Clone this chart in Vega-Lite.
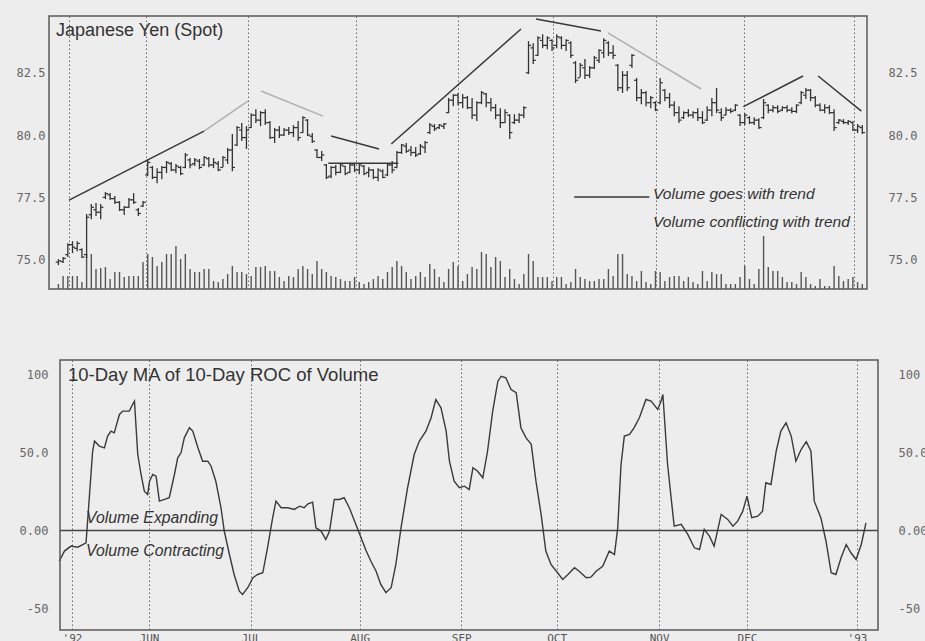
{
  "$schema": "https://vega.github.io/schema/vega-lite/v6.json",
  "background": "#ededed",
  "padding": {"left": 15, "top": 15, "right": 0, "bottom": 0},
  "spacing": 68,
  "config": {
    "view": {"stroke": "#5a5a5a", "strokeWidth": 1.5},
    "axis": {"labelFont": "DejaVu Sans Mono", "labelFontSize": 12, "labelColor": "#666"}
  },
  "datasets": {
    "bars": [
      {"d":2,"o":74.9,"h":75.02,"l":74.78,"c":74.95,"v":0.5},
      {"d":3,"o":74.92,"h":75.1,"l":74.86,"c":75.05,"v":1.3},
      {"d":4,"o":75.2,"h":75.66,"l":75.1,"c":75.6,"v":1.3},
      {"d":5,"o":75.6,"h":75.74,"l":75.26,"c":75.5,"v":1.3},
      {"d":6,"o":75.45,"h":75.74,"l":75.34,"c":75.65,"v":1.3},
      {"d":7,"o":75.4,"h":75.46,"l":75.06,"c":75.1,"v":0.7},
      {"d":8,"o":75.2,"h":76.83,"l":75.06,"c":76.7,"v":3.5},
      {"d":9,"o":76.8,"h":77.23,"l":76.62,"c":77.1,"v":3.5},
      {"d":10,"o":77.0,"h":77.27,"l":76.75,"c":76.9,"v":2.0},
      {"d":11,"o":76.9,"h":77.23,"l":76.62,"c":77.1,"v":2.1},
      {"d":12,"o":77.5,"h":77.71,"l":77.43,"c":77.65,"v":2.2},
      {"d":13,"o":77.6,"h":77.67,"l":77.39,"c":77.45,"v":1.0},
      {"d":14,"o":77.45,"h":77.55,"l":77.23,"c":77.3,"v":1.7},
      {"d":15,"o":77.3,"h":77.35,"l":76.95,"c":77.0,"v":1.7},
      {"d":16,"o":77.0,"h":77.15,"l":76.79,"c":77.1,"v":1.2},
      {"d":17,"o":77.1,"h":77.47,"l":77.07,"c":77.4,"v":1.3},
      {"d":18,"o":77.4,"h":77.67,"l":77.23,"c":77.3,"v":1.3},
      {"d":19,"o":77.0,"h":77.07,"l":76.75,"c":76.85,"v":1.3},
      {"d":20,"o":77.15,"h":77.35,"l":77.11,"c":77.3,"v":2.7},
      {"d":21,"o":78.4,"h":79.04,"l":78.35,"c":78.9,"v":3.5},
      {"d":22,"o":78.7,"h":78.76,"l":78.23,"c":78.3,"v":3.2},
      {"d":23,"o":78.3,"h":78.67,"l":78.07,"c":78.5,"v":2.3},
      {"d":24,"o":78.5,"h":78.76,"l":78.23,"c":78.7,"v":2.7},
      {"d":25,"o":78.7,"h":78.96,"l":78.47,"c":78.9,"v":3.5},
      {"d":26,"o":78.85,"h":78.92,"l":78.55,"c":78.6,"v":3.5},
      {"d":27,"o":78.6,"h":78.84,"l":78.47,"c":78.75,"v":4.3},
      {"d":28,"o":78.7,"h":78.76,"l":78.39,"c":78.45,"v":3.0},
      {"d":29,"o":78.7,"h":79.28,"l":78.67,"c":79.2,"v":3.5},
      {"d":30,"o":79.0,"h":79.08,"l":78.67,"c":78.8,"v":2.0},
      {"d":31,"o":78.85,"h":79.08,"l":78.76,"c":79.0,"v":1.7},
      {"d":32,"o":78.95,"h":79.04,"l":78.63,"c":78.7,"v":1.7},
      {"d":33,"o":78.8,"h":79.16,"l":78.76,"c":79.1,"v":2.0},
      {"d":34,"o":79.05,"h":79.12,"l":78.71,"c":78.8,"v":2.0},
      {"d":35,"o":78.8,"h":79.08,"l":78.67,"c":78.9,"v":0.8},
      {"d":36,"o":78.85,"h":78.96,"l":78.55,"c":78.6,"v":0.7},
      {"d":37,"o":78.7,"h":79.16,"l":78.71,"c":79.1,"v":1.0},
      {"d":38,"o":79.0,"h":79.48,"l":78.84,"c":79.4,"v":1.5},
      {"d":39,"o":79.4,"h":80.04,"l":78.55,"c":78.7,"v":2.3},
      {"d":40,"o":79.6,"h":80.36,"l":79.56,"c":80.3,"v":1.7},
      {"d":41,"o":80.2,"h":80.48,"l":79.76,"c":79.9,"v":1.7},
      {"d":42,"o":79.9,"h":80.36,"l":79.44,"c":80.2,"v":1.5},
      {"d":43,"o":80.3,"h":80.88,"l":80.28,"c":80.8,"v":1.3},
      {"d":44,"o":80.8,"h":81.04,"l":80.48,"c":80.6,"v":2.2},
      {"d":45,"o":80.6,"h":80.96,"l":80.36,"c":80.9,"v":2.2},
      {"d":46,"o":80.9,"h":81.04,"l":80.4,"c":80.5,"v":2.3},
      {"d":47,"o":80.5,"h":80.56,"l":79.84,"c":79.9,"v":1.8},
      {"d":48,"o":79.9,"h":80.28,"l":79.68,"c":80.2,"v":1.8},
      {"d":49,"o":80.2,"h":80.36,"l":79.88,"c":80.0,"v":1.2},
      {"d":50,"o":80.0,"h":80.28,"l":79.96,"c":80.2,"v":0.8},
      {"d":51,"o":80.2,"h":80.32,"l":80.0,"c":80.1,"v":1.3},
      {"d":52,"o":80.1,"h":80.4,"l":79.92,"c":80.3,"v":1.2},
      {"d":53,"o":80.3,"h":80.56,"l":79.76,"c":79.9,"v":2.0},
      {"d":54,"o":80.1,"h":80.76,"l":80.08,"c":80.7,"v":2.3},
      {"d":55,"o":80.6,"h":80.64,"l":79.96,"c":80.0,"v":2.0},
      {"d":56,"o":79.95,"h":80.08,"l":79.68,"c":79.75,"v":1.5},
      {"d":57,"o":79.4,"h":79.44,"l":79.08,"c":79.1,"v":2.8},
      {"d":58,"o":79.1,"h":79.36,"l":78.96,"c":79.2,"v":2.0},
      {"d":59,"o":78.8,"h":78.84,"l":78.23,"c":78.3,"v":1.7},
      {"d":60,"o":78.35,"h":78.76,"l":78.27,"c":78.7,"v":1.3},
      {"d":61,"o":78.7,"h":78.8,"l":78.39,"c":78.5,"v":1.2},
      {"d":62,"o":78.5,"h":78.84,"l":78.47,"c":78.8,"v":1.0},
      {"d":63,"o":78.75,"h":78.76,"l":78.39,"c":78.45,"v":0.8},
      {"d":64,"o":78.5,"h":78.84,"l":78.47,"c":78.8,"v":0.8},
      {"d":65,"o":78.8,"h":78.88,"l":78.51,"c":78.6,"v":1.2},
      {"d":66,"o":78.6,"h":78.84,"l":78.43,"c":78.8,"v":0.7},
      {"d":67,"o":78.75,"h":78.8,"l":78.39,"c":78.45,"v":0.5},
      {"d":68,"o":78.5,"h":78.71,"l":78.31,"c":78.6,"v":0.7},
      {"d":69,"o":78.6,"h":78.63,"l":78.23,"c":78.3,"v":1.0},
      {"d":70,"o":78.3,"h":78.67,"l":78.15,"c":78.6,"v":1.3},
      {"d":71,"o":78.55,"h":78.63,"l":78.27,"c":78.3,"v":1.0},
      {"d":72,"o":78.4,"h":78.88,"l":78.35,"c":78.8,"v":1.7},
      {"d":73,"o":78.8,"h":78.96,"l":78.47,"c":78.6,"v":2.2},
      {"d":74,"o":78.7,"h":79.36,"l":78.67,"c":79.3,"v":2.8},
      {"d":75,"o":79.3,"h":79.64,"l":79.24,"c":79.6,"v":2.3},
      {"d":76,"o":79.55,"h":79.68,"l":79.28,"c":79.35,"v":1.7},
      {"d":77,"o":79.4,"h":79.56,"l":79.16,"c":79.3,"v":1.0},
      {"d":78,"o":79.3,"h":79.52,"l":79.12,"c":79.2,"v":1.3},
      {"d":79,"o":79.25,"h":79.64,"l":79.2,"c":79.55,"v":1.7},
      {"d":80,"o":79.5,"h":79.76,"l":79.28,"c":79.7,"v":1.2},
      {"d":81,"o":80.1,"h":80.48,"l":80.04,"c":80.4,"v":2.5},
      {"d":82,"o":80.35,"h":80.44,"l":80.16,"c":80.25,"v":2.0},
      {"d":83,"o":80.3,"h":80.44,"l":80.24,"c":80.4,"v":1.2},
      {"d":84,"o":80.35,"h":80.48,"l":80.24,"c":80.45,"v":0.7},
      {"d":85,"o":80.9,"h":81.49,"l":80.88,"c":81.4,"v":2.0},
      {"d":86,"o":81.4,"h":81.65,"l":81.16,"c":81.6,"v":2.7},
      {"d":87,"o":81.6,"h":81.69,"l":81.2,"c":81.3,"v":2.3},
      {"d":88,"o":81.3,"h":81.65,"l":81.08,"c":81.5,"v":0.8},
      {"d":89,"o":81.5,"h":81.57,"l":81.04,"c":81.1,"v":1.5},
      {"d":90,"o":81.1,"h":81.49,"l":80.64,"c":80.8,"v":2.2},
      {"d":91,"o":80.8,"h":81.36,"l":80.56,"c":81.3,"v":2.0},
      {"d":92,"o":81.3,"h":81.77,"l":81.24,"c":81.7,"v":3.7},
      {"d":93,"o":81.65,"h":81.69,"l":81.12,"c":81.3,"v":3.5},
      {"d":94,"o":81.3,"h":81.49,"l":80.96,"c":81.1,"v":2.2},
      {"d":95,"o":81.1,"h":81.24,"l":80.64,"c":80.8,"v":3.2},
      {"d":96,"o":80.8,"h":81.08,"l":80.28,"c":80.5,"v":2.8},
      {"d":97,"o":80.5,"h":81.04,"l":80.48,"c":80.9,"v":1.2},
      {"d":98,"o":80.8,"h":80.84,"l":79.84,"c":80.1,"v":2.0},
      {"d":99,"o":80.5,"h":80.84,"l":80.44,"c":80.6,"v":1.0},
      {"d":100,"o":80.6,"h":80.88,"l":80.48,"c":80.8,"v":0.5},
      {"d":101,"o":80.8,"h":81.16,"l":80.68,"c":81.1,"v":1.5},
      {"d":102,"o":82.5,"h":83.77,"l":82.45,"c":83.6,"v":3.5},
      {"d":103,"o":83.5,"h":83.69,"l":82.85,"c":83.0,"v":2.8},
      {"d":104,"o":83.2,"h":83.97,"l":83.17,"c":83.9,"v":1.2},
      {"d":105,"o":83.8,"h":84.05,"l":83.49,"c":83.6,"v":1.2},
      {"d":106,"o":83.6,"h":83.97,"l":83.45,"c":83.9,"v":1.2},
      {"d":107,"o":83.8,"h":83.85,"l":83.37,"c":83.5,"v":0.8},
      {"d":108,"o":83.6,"h":84.05,"l":83.49,"c":83.95,"v":1.2},
      {"d":109,"o":83.9,"h":83.97,"l":83.45,"c":83.6,"v":1.2},
      {"d":110,"o":83.6,"h":83.85,"l":83.37,"c":83.8,"v":0.5},
      {"d":111,"o":83.7,"h":83.77,"l":83.09,"c":83.2,"v":0.7},
      {"d":112,"o":82.9,"h":82.97,"l":82.09,"c":82.2,"v":2.0},
      {"d":113,"o":82.3,"h":82.89,"l":82.33,"c":82.8,"v":1.2},
      {"d":114,"o":82.7,"h":83.05,"l":82.25,"c":82.4,"v":1.0},
      {"d":115,"o":82.4,"h":82.77,"l":82.29,"c":82.7,"v":0.8},
      {"d":116,"o":82.7,"h":83.17,"l":82.65,"c":83.1,"v":0.8},
      {"d":117,"o":83.0,"h":83.45,"l":82.89,"c":83.4,"v":1.0},
      {"d":118,"o":83.3,"h":83.89,"l":83.09,"c":83.8,"v":1.0},
      {"d":119,"o":83.7,"h":83.77,"l":83.17,"c":83.3,"v":2.0},
      {"d":120,"o":83.3,"h":83.61,"l":83.05,"c":83.2,"v":1.3},
      {"d":121,"o":82.8,"h":82.85,"l":81.77,"c":81.9,"v":3.5},
      {"d":122,"o":81.9,"h":82.57,"l":81.69,"c":82.4,"v":3.5},
      {"d":123,"o":82.4,"h":82.57,"l":81.77,"c":81.9,"v":1.5},
      {"d":124,"o":82.8,"h":83.25,"l":82.69,"c":83.2,"v":1.3},
      {"d":125,"o":82.2,"h":82.29,"l":81.36,"c":81.5,"v":0.8},
      {"d":126,"o":81.5,"h":81.85,"l":81.24,"c":81.7,"v":1.8},
      {"d":127,"o":81.7,"h":81.77,"l":81.16,"c":81.3,"v":0.7},
      {"d":128,"o":81.3,"h":81.57,"l":81.08,"c":81.5,"v":0.5},
      {"d":129,"o":81.3,"h":81.36,"l":80.96,"c":81.0,"v":1.8},
      {"d":130,"o":81.3,"h":82.29,"l":81.24,"c":82.1,"v":1.7},
      {"d":131,"o":81.8,"h":81.85,"l":81.36,"c":81.5,"v":0.8},
      {"d":132,"o":81.5,"h":81.69,"l":81.08,"c":81.2,"v":1.2},
      {"d":133,"o":81.2,"h":81.36,"l":80.76,"c":80.9,"v":1.3},
      {"d":134,"o":80.9,"h":81.16,"l":80.48,"c":80.6,"v":1.3},
      {"d":135,"o":80.7,"h":80.96,"l":80.64,"c":80.9,"v":0.8},
      {"d":136,"o":80.9,"h":81.04,"l":80.72,"c":80.8,"v":1.2},
      {"d":137,"o":80.8,"h":80.96,"l":80.68,"c":80.9,"v":0.7},
      {"d":138,"o":80.9,"h":81.08,"l":80.56,"c":80.7,"v":0.5},
      {"d":139,"o":80.7,"h":80.96,"l":80.44,"c":80.5,"v":1.8},
      {"d":140,"o":80.6,"h":81.16,"l":80.56,"c":81.0,"v":0.8},
      {"d":141,"o":81.0,"h":81.49,"l":80.76,"c":81.3,"v":1.7},
      {"d":142,"o":81.3,"h":81.89,"l":80.88,"c":81.0,"v":1.5},
      {"d":143,"o":80.9,"h":81.08,"l":80.56,"c":80.7,"v":1.5},
      {"d":144,"o":80.8,"h":81.12,"l":80.8,"c":81.0,"v":0.5},
      {"d":145,"o":81.0,"h":81.08,"l":80.88,"c":80.95,"v":0.5},
      {"d":146,"o":81.0,"h":81.24,"l":80.96,"c":81.2,"v":0.5},
      {"d":147,"o":80.8,"h":80.84,"l":80.36,"c":80.5,"v":1.2},
      {"d":148,"o":80.5,"h":80.88,"l":80.4,"c":80.8,"v":2.3},
      {"d":149,"o":80.7,"h":80.76,"l":80.44,"c":80.5,"v":1.0},
      {"d":150,"o":80.5,"h":80.72,"l":80.4,"c":80.6,"v":0.5},
      {"d":151,"o":80.6,"h":80.68,"l":80.24,"c":80.3,"v":2.0},
      {"d":152,"o":80.7,"h":81.45,"l":80.64,"c":81.3,"v":5.3},
      {"d":153,"o":81.2,"h":81.24,"l":80.88,"c":81.0,"v":2.2},
      {"d":154,"o":81.0,"h":81.2,"l":80.92,"c":81.1,"v":1.8},
      {"d":155,"o":81.1,"h":81.2,"l":80.88,"c":80.95,"v":1.8},
      {"d":156,"o":81.0,"h":81.16,"l":80.96,"c":81.1,"v":1.2},
      {"d":157,"o":81.1,"h":81.2,"l":80.92,"c":81.0,"v":0.7},
      {"d":158,"o":81.0,"h":81.12,"l":80.88,"c":80.95,"v":0.7},
      {"d":159,"o":80.95,"h":81.24,"l":80.88,"c":81.2,"v":0.5},
      {"d":160,"o":81.3,"h":81.77,"l":81.24,"c":81.7,"v":1.7},
      {"d":161,"o":81.6,"h":81.89,"l":81.45,"c":81.8,"v":1.2},
      {"d":162,"o":81.8,"h":81.85,"l":81.36,"c":81.5,"v":0.5},
      {"d":163,"o":81.5,"h":81.57,"l":81.12,"c":81.2,"v":0.3},
      {"d":164,"o":81.2,"h":81.28,"l":80.96,"c":81.0,"v":1.0},
      {"d":165,"o":81.0,"h":81.24,"l":80.88,"c":81.1,"v":0.3},
      {"d":166,"o":81.1,"h":81.2,"l":80.84,"c":80.9,"v":0.3},
      {"d":167,"o":80.9,"h":81.04,"l":80.16,"c":80.3,"v":2.3},
      {"d":168,"o":80.5,"h":80.64,"l":80.44,"c":80.6,"v":1.3},
      {"d":169,"o":80.55,"h":80.64,"l":80.44,"c":80.5,"v":0.8},
      {"d":170,"o":80.5,"h":80.6,"l":80.4,"c":80.55,"v":1.0},
      {"d":171,"o":80.5,"h":80.56,"l":80.16,"c":80.2,"v":1.2},
      {"d":172,"o":80.2,"h":80.44,"l":80.08,"c":80.35,"v":0.7},
      {"d":173,"o":80.3,"h":80.4,"l":80.04,"c":80.1,"v":0.5}
    ],
    "trend": [
      {"seg":"A","kind":"dark","d":4.26,"p":77.39},{"seg":"A","kind":"dark","d":32.98,"p":80.16},
      {"seg":"B","kind":"faint","d":32.98,"p":80.16},{"seg":"B","kind":"faint","d":42.3,"p":81.36},
      {"seg":"C","kind":"faint","d":45.1,"p":81.77},{"seg":"C","kind":"faint","d":58.3,"p":80.76},
      {"seg":"D","kind":"dark","d":60.0,"p":79.96},{"seg":"D","kind":"dark","d":70.2,"p":79.44},
      {"seg":"E","kind":"dark","d":59.4,"p":78.87},{"seg":"E","kind":"dark","d":74.3,"p":78.87},
      {"seg":"F","kind":"dark","d":72.8,"p":79.64},{"seg":"F","kind":"dark","d":100.4,"p":84.26},
      {"seg":"G","kind":"dark","d":103.6,"p":84.66},{"seg":"G","kind":"dark","d":117.4,"p":84.18},
      {"seg":"H","kind":"faint","d":118.9,"p":84.1},{"seg":"H","kind":"faint","d":138.7,"p":81.85},
      {"seg":"I","kind":"dark","d":147.7,"p":81.14},{"seg":"I","kind":"dark","d":160.4,"p":82.37},
      {"seg":"J","kind":"dark","d":163.6,"p":82.37},{"seg":"J","kind":"dark","d":172.8,"p":80.96},
      {"seg":"K","kind":"dark","d":111.7,"p":77.51},{"seg":"K","kind":"dark","d":127.7,"p":77.51}
    ],
    "osc": [
      {"d":1.5,"v":-19.7},{"d":2.6,"v":-13.2},{"d":4.0,"v":-10.0},{"d":5.4,"v":-10.7},{"d":6.5,"v":-9.0},{"d":7.2,"v":-7.9},
      {"d":8.6,"v":50.8},{"d":9.0,"v":57.3},{"d":10.0,"v":54.1},{"d":11.1,"v":53.0},{"d":11.8,"v":60.5},{"d":12.5,"v":63.7},
      {"d":13.2,"v":62.6},{"d":14.3,"v":74.4},{"d":15.0,"v":76.5},{"d":16.4,"v":76.5},{"d":17.1,"v":80.8},{"d":17.5,"v":82.9},
      {"d":18.2,"v":48.7},{"d":18.9,"v":35.9},{"d":19.6,"v":25.2},{"d":20.3,"v":23.1},{"d":20.7,"v":31.6},{"d":21.4,"v":35.9},
      {"d":22.1,"v":34.8},{"d":22.8,"v":18.8},{"d":23.9,"v":19.9},{"d":24.9,"v":21.0},{"d":26.0,"v":35.9},{"d":26.7,"v":46.6},
      {"d":27.4,"v":49.8},{"d":28.1,"v":59.4},{"d":29.2,"v":65.9},{"d":29.9,"v":63.7},{"d":31.0,"v":53.0},{"d":32.0,"v":44.4},
      {"d":33.1,"v":44.4},{"d":33.8,"v":41.2},{"d":34.8,"v":31.6},{"d":35.9,"v":14.6},{"d":36.6,"v":-0.4},{"d":37.7,"v":-15.4},
      {"d":38.7,"v":-28.2},{"d":39.8,"v":-38.9},{"d":40.5,"v":-41.0},{"d":41.6,"v":-36.7},{"d":42.7,"v":-30.3},{"d":43.7,"v":-28.2},
      {"d":44.8,"v":-27.1},{"d":45.8,"v":-11.1},{"d":46.9,"v":8.2},{"d":47.6,"v":18.8},{"d":48.7,"v":14.6},{"d":50.1,"v":14.6},
      {"d":51.5,"v":13.5},{"d":52.6,"v":15.6},{"d":53.6,"v":14.6},{"d":54.4,"v":17.1},{"d":55.4,"v":18.2},{"d":56.1,"v":1.7},
      {"d":57.2,"v":-0.4},{"d":58.2,"v":-5.8},{"d":59.0,"v":-0.4},{"d":60.0,"v":19.9},{"d":61.1,"v":19.9},{"d":62.1,"v":21.0},
      {"d":63.2,"v":14.6},{"d":64.6,"v":3.9},{"d":65.7,"v":-4.7},{"d":66.8,"v":-13.2},{"d":67.8,"v":-19.7},{"d":68.9,"v":-26.1},
      {"d":69.9,"v":-34.6},{"d":71.0,"v":-39.9},{"d":72.1,"v":-36.7},{"d":73.1,"v":-21.8},{"d":74.2,"v":1.7},{"d":75.6,"v":27.4},
      {"d":77.0,"v":48.7},{"d":78.1,"v":57.3},{"d":79.5,"v":63.7},{"d":80.6,"v":72.3},{"d":81.6,"v":84.0},{"d":82.7,"v":78.6},
      {"d":83.8,"v":63.7},{"d":84.5,"v":44.4},{"d":85.5,"v":31.6},{"d":86.6,"v":27.4},{"d":87.7,"v":28.4},{"d":88.7,"v":26.3},
      {"d":89.5,"v":40.2},{"d":90.5,"v":38.0},{"d":91.6,"v":33.8},{"d":92.6,"v":50.8},{"d":93.7,"v":76.5},{"d":94.8,"v":95.7},
      {"d":95.5,"v":98.9},{"d":96.5,"v":97.9},{"d":97.6,"v":90.4},{"d":98.7,"v":88.3},{"d":99.7,"v":65.9},{"d":100.8,"v":59.4},
      {"d":101.9,"v":55.2},{"d":102.9,"v":31.6},{"d":104.0,"v":10.3},{"d":105.0,"v":-13.2},{"d":106.1,"v":-21.8},{"d":107.5,"v":-27.1},
      {"d":108.6,"v":-31.4},{"d":109.7,"v":-28.2},{"d":111.1,"v":-23.9},{"d":112.1,"v":-26.1},{"d":113.6,"v":-30.3},{"d":114.6,"v":-29.9},
      {"d":115.7,"v":-26.1},{"d":117.1,"v":-22.9},{"d":118.5,"v":-13.2},{"d":119.6,"v":-15.4},{"d":120.3,"v":1.7},{"d":121.0,"v":42.3},
      {"d":121.7,"v":60.5},{"d":122.8,"v":61.6},{"d":123.8,"v":65.9},{"d":124.9,"v":72.3},{"d":126.3,"v":84.0},{"d":127.4,"v":82.9},
      {"d":128.8,"v":77.6},{"d":129.5,"v":82.9},{"d":129.9,"v":87.2},{"d":130.9,"v":42.3},{"d":132.3,"v":2.8},{"d":133.8,"v":3.9},
      {"d":135.2,"v":-2.5},{"d":136.6,"v":-11.1},{"d":137.7,"v":-12.2},{"d":138.7,"v":0.7},{"d":139.8,"v":-3.6},{"d":140.8,"v":-10.0},
      {"d":142.3,"v":10.3},{"d":143.7,"v":7.1},{"d":144.8,"v":2.8},{"d":145.8,"v":6.0},{"d":146.9,"v":12.4},{"d":147.8,"v":22.0},
      {"d":148.8,"v":8.2},{"d":150.1,"v":9.2},{"d":151.1,"v":12.4},{"d":151.8,"v":30.6},{"d":152.9,"v":29.5},{"d":154.0,"v":50.8},
      {"d":155.0,"v":63.7},{"d":156.1,"v":69.0},{"d":157.2,"v":60.5},{"d":158.2,"v":44.4},{"d":159.3,"v":51.9},{"d":160.4,"v":56.9},
      {"d":161.4,"v":50.8},{"d":162.1,"v":18.8},{"d":163.5,"v":8.2},{"d":164.6,"v":-6.9},{"d":165.7,"v":-27.1},{"d":166.7,"v":-28.2},
      {"d":167.8,"v":-17.5},{"d":168.9,"v":-9.0},{"d":169.9,"v":-14.3},{"d":171.0,"v":-18.6},{"d":172.1,"v":-9.0},{"d":173.1,"v":4.9}
    ]
  },
  "vconcat": [
    {
      "width": 818,
      "height": 273,
      "encoding": {
        "x": {"field": "d", "type": "quantitative", "title": null,
          "scale": {"domain": [0, 174], "nice": false, "zero": false},
          "axis": {"values": [4.2, 20.6, 42.3, 65.4, 87.0, 107.3, 129.1, 147.8, 171.2], "grid": true, "gridDash": [1.5, 2.5], "gridColor": "#666", "gridWidth": 1, "labels": false, "ticks": false, "domain": false, "title": null}}
      },
      "layer": [
        {
          "data": {"name": "bars"},
          "mark": {"type": "rule", "color": "#555", "strokeWidth": 1.4},
          "encoding": {
            "y": {"field": "v", "type": "quantitative", "scale": {"domain": [0, 27.3], "nice": false, "zero": true}, "axis": null},
            "y2": {"datum": 0}
          }
        },
        {
          "data": {"name": "bars"},
          "mark": {"type": "rule", "color": "#333", "strokeWidth": 1.3},
          "encoding": {
            "y": {"field": "l", "type": "quantitative", "scale": {"domain": [73.82, 84.78], "nice": false, "zero": false},
              "axis": {"orient": "left", "values": [75, 77.5, 80, 82.5], "format": ".1f", "labelPadding": 4, "ticks": false, "domain": false, "grid": false, "title": null}},
            "y2": {"field": "h"}
          }
        },
        {
          "data": {"name": "bars"},
          "mark": {"type": "tick", "orient": "horizontal", "size": 2.6, "thickness": 1.2, "xOffset": -1.4, "color": "#333", "opacity": 1},
          "encoding": {
            "y": {"field": "o", "type": "quantitative", "scale": {"domain": [73.82, 84.78], "nice": false, "zero": false}, "axis": null}
          }
        },
        {
          "data": {"name": "bars"},
          "mark": {"type": "tick", "orient": "horizontal", "size": 2.6, "thickness": 1.2, "xOffset": 1.4, "color": "#333", "opacity": 1},
          "encoding": {
            "y": {"field": "c", "type": "quantitative", "scale": {"domain": [73.82, 84.78], "nice": false, "zero": false},
              "axis": {"orient": "right", "values": [75, 77.5, 80, 82.5], "format": ".1f", "labelPadding": 21, "ticks": false, "domain": false, "grid": false, "title": null}}
          }
        },
        {
          "data": {"name": "trend"},
          "mark": {"type": "line", "strokeWidth": 1.5},
          "encoding": {
            "y": {"field": "p", "type": "quantitative", "scale": {"domain": [73.82, 84.78], "nice": false, "zero": false}, "axis": null},
            "detail": {"field": "seg"},
            "color": {"field": "kind", "type": "nominal", "scale": {"domain": ["dark", "faint"], "range": ["#383838", "#b0b0b0"]}, "legend": null}
          }
        },
        {
          "data": {"values": [{"d": 1.5, "p": 84.18, "t": "Japanese Yen (Spot)"}]},
          "mark": {"type": "text", "align": "left", "baseline": "middle", "font": "Liberation Sans", "fontSize": 18, "color": "#333"},
          "encoding": {
            "y": {"field": "p", "type": "quantitative", "scale": {"domain": [73.82, 84.78], "nice": false, "zero": false}, "axis": null},
            "text": {"field": "t"}
          }
        },
        {
          "data": {"values": [{"d": 128.5, "p": 77.63, "t": "Volume goes with trend"}, {"d": 128.5, "p": 76.5, "t": "Volume conflicting with trend"}]},
          "mark": {"type": "text", "align": "left", "baseline": "middle", "font": "Liberation Sans", "fontStyle": "italic", "fontSize": 15.5, "color": "#333"},
          "encoding": {
            "y": {"field": "p", "type": "quantitative", "scale": {"domain": [73.82, 84.78], "nice": false, "zero": false}, "axis": null},
            "text": {"field": "t"}
          }
        }
      ],
      "resolve": {"scale": {"y": "independent"}, "axis": {"y": "independent"}}
    },
    {
      "width": 818,
      "height": 270,
      "view": {"stroke": null},
      "encoding": {
        "x": {"field": "d", "type": "quantitative", "title": null,
          "scale": {"domain": [-0.68, 173.32], "nice": false, "zero": false},
          "axis": {"values": [4.2, 20.6, 42.3, 65.4, 87.0, 107.3, 129.1, 147.8, 171.2], "grid": true, "gridDash": [1.5, 2.5], "gridColor": "#666", "gridWidth": 1, "labels": true, "ticks": false, "domain": false, "title": null, "labelPadding": 2, "labelFontSize": 11, "labelColor": "#555",
            "labelExpr": "datum.value < 10 ? \"'92\" : datum.value < 30 ? 'JUN' : datum.value < 50 ? 'JUL' : datum.value < 70 ? 'AUG' : datum.value < 95 ? 'SEP' : datum.value < 115 ? 'OCT' : datum.value < 135 ? 'NOV' : datum.value < 160 ? 'DEC' : \"'93\""}}
      },
      "layer": [
        {
          "data": {"values": [{"d": 1.66, "z": 0}, {"d": 175.66, "z": 0}]},
          "mark": {"type": "line", "color": "#444", "strokeWidth": 1.6},
          "encoding": {
            "y": {"field": "z", "type": "quantitative", "scale": {"domain": [-63.8, 109.3], "nice": false, "zero": false},
              "axis": {"orient": "left", "values": [100, 50, 0, -50], "labelExpr": "datum.value == 100 ? '100' : datum.value == 50 ? '50.0' : datum.value == 0 ? '0.00' : '-50'", "labelPadding": 1, "ticks": false, "domain": false, "grid": false, "title": null}}
          }
        },
        {
          "data": {"name": "osc"},
          "mark": {"type": "line", "color": "#3a3a3a", "strokeWidth": 1.4},
          "encoding": {
            "y": {"field": "v", "type": "quantitative", "scale": {"domain": [-63.8, 109.3], "nice": false, "zero": false},
              "axis": {"orient": "right", "values": [100, 50, 0, -50], "labelExpr": "datum.value == 100 ? '100' : datum.value == 50 ? '50.0' : datum.value == 0 ? '0.00' : '-50'", "labelPadding": 31, "ticks": false, "domain": false, "grid": false, "title": null}}
          }
        },
        {
          "data": {"values": [{"d": 3.36, "v": 99.4, "t": "10-Day MA of 10-Day ROC of Volume"}]},
          "mark": {"type": "text", "align": "left", "baseline": "middle", "font": "Liberation Sans", "fontSize": 18.5, "color": "#333"},
          "encoding": {
            "y": {"field": "v", "type": "quantitative", "scale": {"domain": [-63.8, 109.3], "nice": false, "zero": false}, "axis": null},
            "text": {"field": "t"}
          }
        },
        {
          "data": {"values": [{"d": 7.19, "v": 8.3, "t": "Volume Expanding"}, {"d": 7.19, "v": -13.4, "t": "Volume Contracting"}]},
          "mark": {"type": "text", "align": "left", "baseline": "middle", "font": "Liberation Sans", "fontStyle": "italic", "fontSize": 15.8, "color": "#333"},
          "encoding": {
            "y": {"field": "v", "type": "quantitative", "scale": {"domain": [-63.8, 109.3], "nice": false, "zero": false}, "axis": null},
            "text": {"field": "t"}
          }
        },
        {
          "data": {"values": [{"d": 1.66, "d2": 175.66, "lo": -63.8, "hi": 109.3}]},
          "mark": {"type": "rect", "filled": false, "stroke": "#5a5a5a", "strokeWidth": 1.5},
          "encoding": {
            "x2": {"field": "d2"},
            "y": {"field": "lo", "type": "quantitative", "scale": {"domain": [-63.8, 109.3], "nice": false, "zero": false}, "axis": null},
            "y2": {"field": "hi"}
          }
        }
      ],
      "resolve": {"axis": {"y": "independent"}}
    }
  ]
}
